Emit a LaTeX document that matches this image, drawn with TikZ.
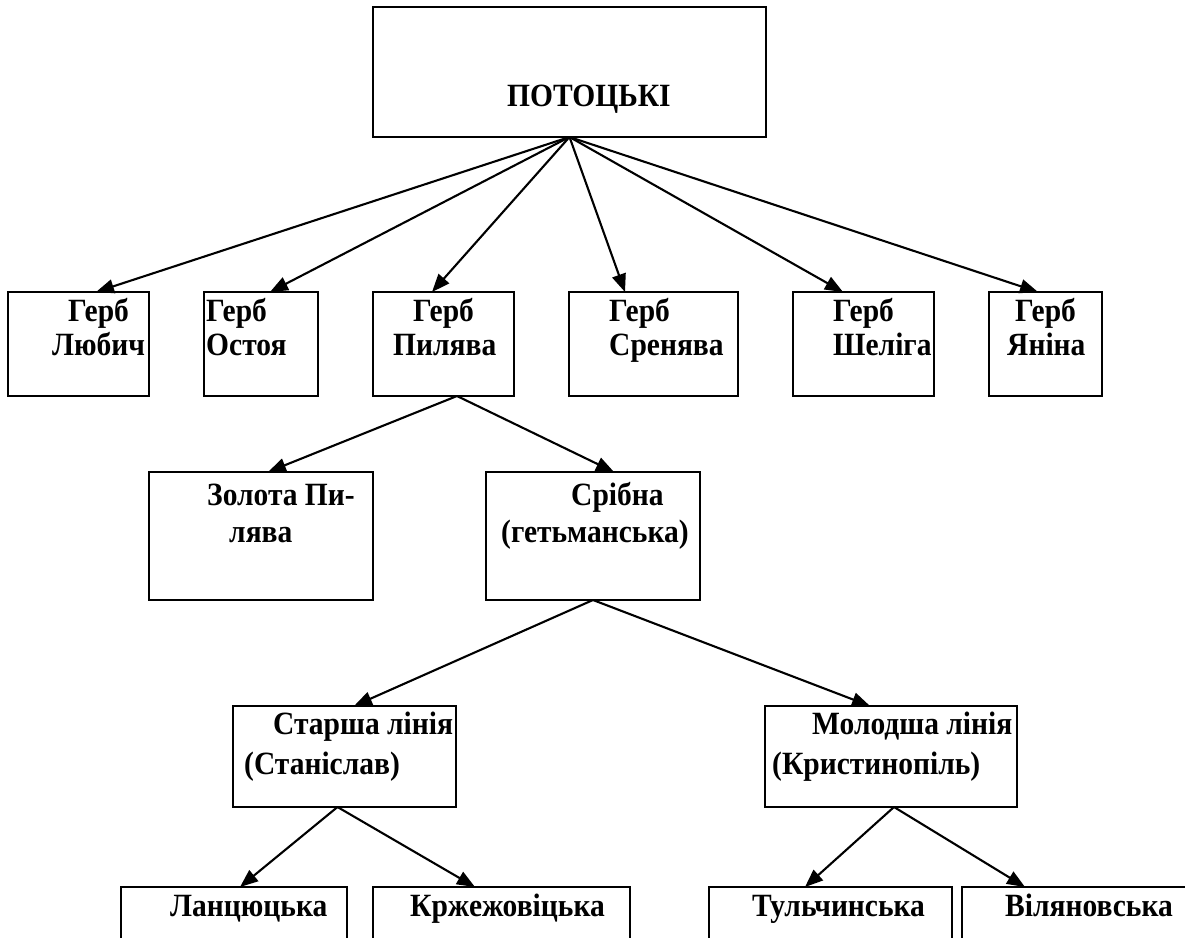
\documentclass[tikz,border=0pt]{standalone}
\usepackage{fontspec}
\setmainfont{Liberation Serif}
\usetikzlibrary{arrows.meta}
\begin{document}
\begin{tikzpicture}[x=1pt,y=-1pt,
  box/.style={draw, line width=2.5pt, rectangle, anchor=north west, inner sep=0pt, outer sep=0pt},
  lbl/.style={anchor=base west, inner sep=0pt, yscale=1.1, transform shape, font=\fontsize{29.5}{35}\selectfont\bfseries},
  link/.style={line width=2.1pt, -{Triangle[length=18pt,width=14pt]}}]
\clip (0,0) rectangle (1185,937);
% boxes
\node[box, minimum width=393pt, minimum height=130pt] (top) at (373,7) {};
\node[box, minimum width=141pt, minimum height=104pt] (lub) at (8,292) {};
\node[box, minimum width=114pt, minimum height=104pt] (ost) at (204,292) {};
\node[box, minimum width=141pt, minimum height=104pt] (pyl) at (373,292) {};
\node[box, minimum width=169pt, minimum height=104pt] (sren) at (569,292) {};
\node[box, minimum width=141pt, minimum height=104pt] (shel) at (793,292) {};
\node[box, minimum width=113pt, minimum height=104pt] (yan) at (989,292) {};
\node[box, minimum width=224pt, minimum height=128pt] (zol) at (149,472) {};
\node[box, minimum width=214pt, minimum height=128pt] (sri) at (486,472) {};
\node[box, minimum width=223pt, minimum height=101pt] (star) at (233,706) {};
\node[box, minimum width=252pt, minimum height=101pt] (mol) at (765,706) {};
\node[box, minimum width=226pt, minimum height=80pt] (lan) at (121,887) {};
\node[box, minimum width=257pt, minimum height=80pt] (krz) at (373,887) {};
\node[box, minimum width=243pt, minimum height=80pt] (tul) at (709,887) {};
\node[box, minimum width=250pt, minimum height=80pt] (vil) at (962,887) {};
% labels
\node[lbl] (ttop) at (507,106) {ПОТОЦЬКІ};
\node[lbl] (tlub1) at (68,321) {Герб};
\node[lbl] (tlub2) at (52,355) {Любич};
\node[lbl] (tost1) at (206,321) {Герб};
\node[lbl] (tost2) at (206,355) {Остоя};
\node[lbl] (tpyl1) at (413,321) {Герб};
\node[lbl] (tpyl2) at (393,355) {Пилява};
\node[lbl] (tsren1) at (609,321) {Герб};
\node[lbl] (tsren2) at (609,355) {Сренява};
\node[lbl] (tshel1) at (833,321) {Герб};
\node[lbl] (tshel2) at (833,355) {Шеліга};
\node[lbl] (tyan1) at (1015,321) {Герб};
\node[lbl] (tyan2) at (1007,355) {Яніна};
\node[lbl] (tzol1) at (207,505) {Золота Пи-};
\node[lbl] (tzol2) at (229,542) {лява};
\node[lbl] (tsri1) at (571,505) {Срібна};
\node[lbl] (tsri2) at (501,542) {(гетьманська)};
\node[lbl] (tstar1) at (273,734) {Старша лінія};
\node[lbl] (tstar2) at (244,774) {(Станіслав)};
\node[lbl] (tmol1) at (812,734) {Молодша лінія};
\node[lbl] (tmol2) at (772,774) {(Кристинопіль)};
\node[lbl] (tlan) at (170,916) {Ланцюцька};
\node[lbl] (tkrz) at (410,916) {Кржежовіцька};
\node[lbl] (ttul) at (752,916) {Тульчинська};
\node[lbl] (tvil) at (1005,916) {Віляновська};
% connectors
\draw[link] (top.south) -- ([xshift=17.5pt]lub.north);
\draw[link] (top.south) -- ([xshift=9pt]ost.north);
\draw[link] (top.south) -- ([xshift=-11.5pt]pyl.north);
\draw[link] (top.south) -- ([xshift=-28.5pt]sren.north);
\draw[link] (top.south) -- ([xshift=-20.5pt]shel.north);
\draw[link] (top.south) -- ([xshift=-7.5pt]yan.north);
\draw[link] ([xshift=13.5pt]pyl.south) -- ([xshift=7pt]zol.north);
\draw[link] ([xshift=13.5pt]pyl.south) -- ([xshift=21pt]sri.north);
\draw[link] (sri.south) -- ([xshift=9.5pt]star.north);
\draw[link] (sri.south) -- ([xshift=-21pt]mol.north);
\draw[link] ([xshift=-7pt]star.south) -- ([xshift=6pt]lan.north);
\draw[link] ([xshift=-7pt]star.south) -- ([xshift=-26.5pt]krz.north);
\draw[link] ([xshift=3pt]mol.south) -- ([xshift=-25.5pt]tul.north);
\draw[link] ([xshift=3pt]mol.south) -- ([xshift=-62pt]vil.north);
\end{tikzpicture}
\end{document}
